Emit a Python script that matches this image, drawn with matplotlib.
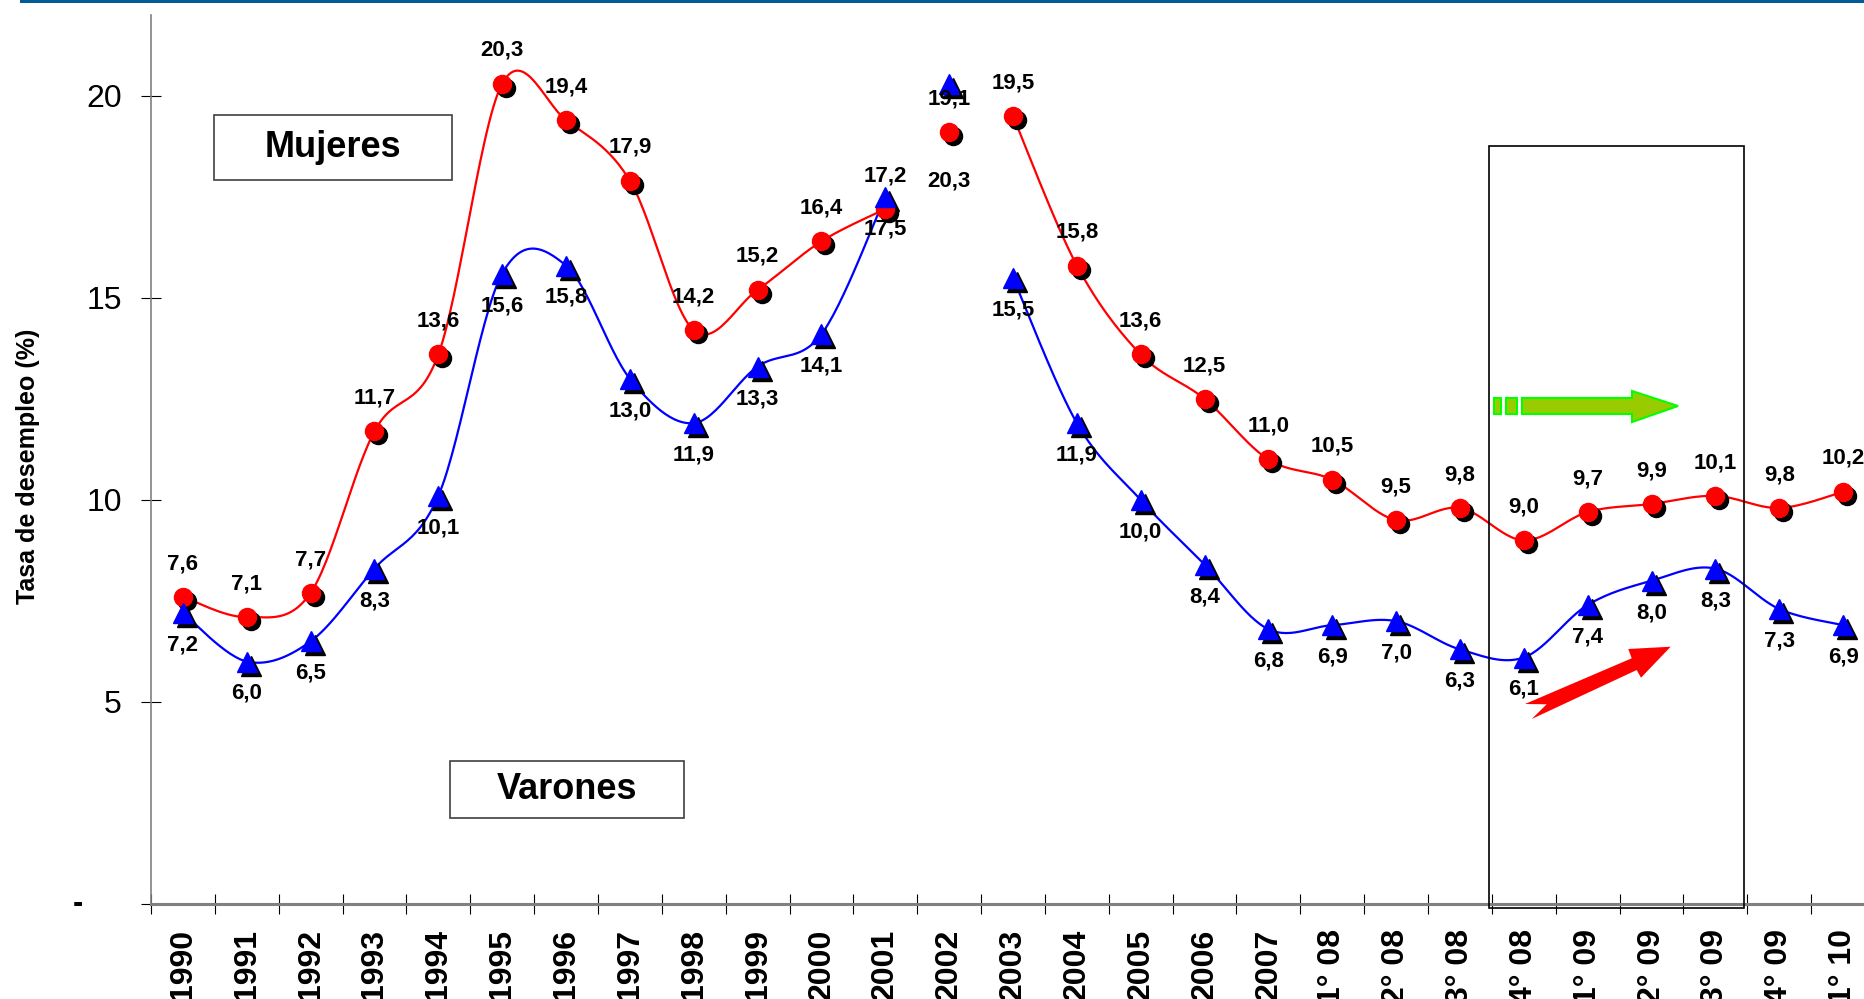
import numpy as np
import matplotlib
matplotlib.use("Agg")
import matplotlib.pyplot as plt
from matplotlib import transforms
from matplotlib.patches import Rectangle, Polygon

plt.rcParams['font.family'] = ['Liberation Sans', 'DejaVu Sans']

categorias = ['1990', '1991', '1992', '1993', '1994', '1995', '1996', '1997',
              '1998', '1999', '2000', '2001', '2002', '2003', '2004', '2005',
              '2006', '2007', '1° 08', '2° 08', '3° 08', '4° 08', '1° 09',
              '2° 09', '3° 09', '4° 09', '1° 10']
mujeres = [7.6, 7.1, 7.7, 11.7, 13.6, 20.3, 19.4, 17.9, 14.2, 15.2, 16.4, 17.2,
           19.1, 19.5, 15.8, 13.6, 12.5, 11.0, 10.5, 9.5, 9.8, 9.0, 9.7, 9.9,
           10.1, 9.8, 10.2]
varones = [7.2, 6.0, 6.5, 8.3, 10.1, 15.6, 15.8, 13.0, 11.9, 13.3, 14.1, 17.5,
           20.3, 15.5, 11.9, 10.0, 8.4, 6.8, 6.9, 7.0, 6.3, 6.1, 7.4, 8.0,
           8.3, 7.3, 6.9]
# la serie se corta en 2002 (punto suelto)
tramos = [(0, 12), (13, 27)]

W, H = 1865, 999


def px(x, y):
    # pixeles de la imagen -> fraccion de figura
    return (x / W, 1 - y / H)


def suavizar(xs, ys, n=30):
    # curva bezier tipo "linea suavizada" de Excel
    P = np.column_stack([np.asarray(xs, float), np.asarray(ys, float)])
    ext = np.vstack([P[0], P, P[-1]])
    t = np.linspace(0, 1, n)[:, None]
    out = []
    for i in range(len(P) - 1):
        p0, p1, p2, p3 = ext[i], ext[i + 1], ext[i + 2], ext[i + 3]
        c1 = p1 + (p2 - p0) / 6
        c2 = p2 - (p3 - p1) / 6
        seg = (1 - t) ** 3 * p1 + 3 * (1 - t) ** 2 * t * c1 + 3 * (1 - t) * t ** 2 * c2 + t ** 3 * p2
        out.append(seg if i == 0 else seg[1:])
    out = np.vstack(out)
    return out[:, 0], out[:, 1]


fig = plt.figure(figsize=(W / 100, H / 100), dpi=100)
ax = fig.add_axes([151 / W, 1 - 904 / H, 1724 / W, (904 - 15) / H])
ax.set_xlim(-0.5, 26.5)
ax.set_ylim(0, 22)

x = np.arange(len(categorias))
sombra = transforms.offset_copy(ax.transData, fig=fig, x=4, y=-4, units='dots')

series = [(mujeres, 'red', 'o', 13, 24), (varones, 'blue', '^', 15, -23)]
for vals, color, mk, ms, dy in series:
    for a, b in tramos:
        sx, sy = suavizar(x[a:b], vals[a:b])
        ax.plot(sx, sy, color=color, lw=1.6, zorder=2)
    ax.plot(x, vals, ls='none', marker=mk, ms=ms, color='black', mec='black',
            transform=sombra, zorder=3)
    ax.plot(x, vals, ls='none', marker=mk, ms=ms, color=color, mec=color, zorder=4)
    for i, v in enumerate(vals):
        off = dy
        if color == 'blue' and categorias[i] == '2002':
            off = -70
        ax.annotate(f"{v:.1f}".replace('.', ','), (i, v), xytext=(0, off),
                    textcoords='offset points', ha='center', va='center',
                    fontsize=16, fontweight='bold', zorder=6)

# ejes
for s in ['top', 'right']:
    ax.spines[s].set_visible(False)
ax.spines['left'].set_color('#808080')
ax.spines['left'].set_linewidth(1.2)
ax.spines['bottom'].set_color('#808080')
ax.spines['bottom'].set_linewidth(2.2)

ax.set_xticks(np.arange(-0.5, 27, 1))
ax.set_xticklabels([])
ax.set_xticks(x, minor=True)
ax.set_xticklabels(categorias, minor=True, rotation=90, fontsize=23, fontweight='bold')
ax.tick_params(axis='x', which='major', direction='inout', length=14, width=0.8, color='black')
ax.tick_params(axis='x', which='minor', length=0, pad=18)

ax.set_yticks([0, 5, 10, 15, 20])
ax.set_yticklabels(['', '5', '10', '15', '20'], fontsize=23)
ax.tick_params(axis='y', direction='inout', length=14, width=0.8, color='black', pad=14)
ax.text(78 / W, 0, '-', transform=transforms.blended_transform_factory(fig.transFigure, ax.transData),
        ha='center', va='center', fontsize=22, fontweight='bold')

fig.text(28 / W, 1 - 466 / H, 'Tasa de desempleo (%)', rotation=90, ha='center',
         va='center', fontsize=18, fontweight='bold')

# recuadro del periodo destacado
ax.add_patch(Rectangle((20.45, -0.1), 4.0, 18.85, fill=False, lw=1.2,
                       edgecolor='black', clip_on=False, zorder=5))

# cajas de texto
for (x0, y0, x1, y1), txt in [((214, 115, 452, 180), 'Mujeres'),
                              ((450, 761, 684, 818), 'Varones')]:
    fig.patches.append(Rectangle(px(x0, y1), (x1 - x0) / W, (y1 - y0) / H, fill=False,
                                 lw=1.2, edgecolor='#404040', transform=fig.transFigure))
    fig.text(*px((x0 + x1) / 2, (y0 + y1) / 2), txt, ha='center', va='center',
             fontsize=26, fontweight='bold')

# flecha verde
verde = [(1522, 398), (1632, 398), (1632, 391), (1678, 406), (1632, 422), (1632, 414), (1522, 414)]
fig.patches.append(Polygon([px(*p) for p in verde], closed=True, facecolor='#99CC00',
                           edgecolor='#00FF00', lw=1.5, transform=fig.transFigure))
for xa, xb in [(1494, 1501), (1506, 1517)]:
    fig.patches.append(Rectangle(px(xa, 414), (xb - xa) / W, 16 / H, facecolor='#99CC00',
                                 edgecolor='#00FF00', lw=1.5, transform=fig.transFigure))

# flecha roja con cola dentada
roja = [(1525, 704), (1631.7, 658.3), (1628.3, 649), (1670.7, 646.7), (1641, 677.7),
        (1636.7, 670), (1531.7, 719), (1546.7, 704.3)]
fig.patches.append(Polygon([px(*p) for p in roja], closed=True, facecolor='red',
                           edgecolor='none', transform=fig.transFigure))

# franja azul superior
fig.patches.append(Rectangle(px(20, 3), 1 - 20 / W, 3 / H, facecolor='#005B96',
                             edgecolor='none', transform=fig.transFigure))

fig.savefig('out.png', dpi=100)
